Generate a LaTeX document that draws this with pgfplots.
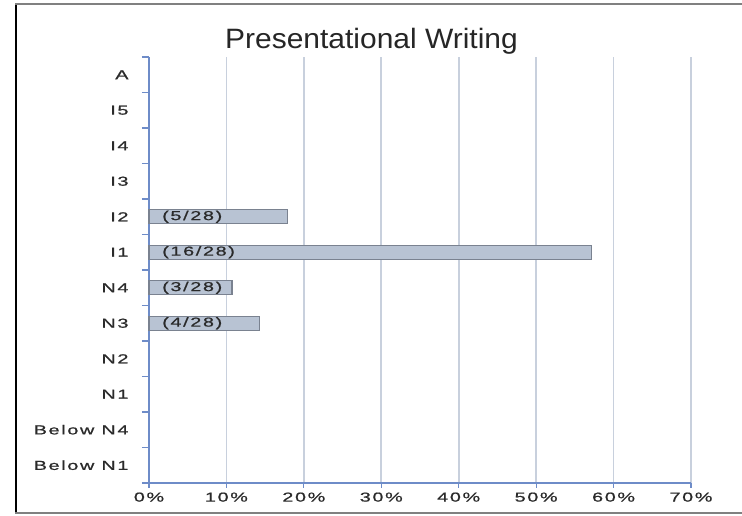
\documentclass[border=0pt]{standalone}
\usepackage{pgfplots}
\pgfplotsset{compat=1.18}
\usepackage{fontspec}
\setmainfont{Liberation Sans}
\newfontfamily\lblfont[FakeStretch=1.52, LetterSpace=13, FakeBold=0.9]{Liberation Sans}
\newfontfamily\titlefont[FakeStretch=1.07]{Liberation Sans}
\definecolor{axblue}{HTML}{6E8CC8}
\definecolor{gridc}{HTML}{C8D0DD}
\definecolor{barfill}{HTML}{B8C3D3}
\definecolor{baredge}{HTML}{7A8290}
\definecolor{txt}{HTML}{2A2A2A}
\begin{document}
\begin{tikzpicture}[x=1pt,y=1pt]
\path[use as bounding box] (0,0) rectangle (742,516);
\fill[white] (0,0) rectangle (742,516);
% frame
\draw[line width=2pt, black] (15.5,3) -- (15.5,512);
\draw[line width=2pt, gray] (15,511.5) -- (742,511.5);
\draw[line width=2pt, gray] (15,3) -- (742,3);
\node[anchor=base, font=\titlefont\fontsize{28}{32}\selectfont, text=black!85] at (371.5,467) {Presentational Writing};
\begin{axis}[
  at={(149pt,33pt)}, anchor=south west,
  scale only axis, width=542pt, height=426pt,
  xmin=0, xmax=70, ymin=-0.5, ymax=11.5,
  axis x line*=bottom, axis y line*=left,
  axis line style={axblue, line width=1.5pt, -},
  tick align=outside,
  major tick length=5pt,
  minor tick length=7pt,
  xtick={0,10,20,30,40,50,60,70},
  xticklabels={0\%,10\%,20\%,30\%,40\%,50\%,60\%,70\%},
  ytick={0,1,2,3,4,5,6,7,8,9,10,11},
  yticklabels={Below N1,Below N4,N1,N2,N3,N4,I1,I2,I3,I4,I5,A},
  minor ytick={-0.5,0.5,1.5,2.5,3.5,4.5,5.5,6.5,7.5,8.5,9.5,10.5,11.5},
  major y tick style={draw=none},
  minor y tick style={axblue, line width=1.2pt},
  major x tick style={axblue, line width=1.2pt},
  xmajorgrids,
  major grid style={gridc, line width=1.8pt},
  tick label style={font=\lblfont\fontsize{13}{15}\selectfont, text=txt},
  yticklabel style={anchor=east, xshift=-12pt},
  xticklabel style={anchor=north, yshift=-1pt},
  clip=false,
]
\addplot[xbar, bar width=14pt, fill=barfill, draw=baredge, line width=1.3pt]
  coordinates {(14.29,4) (10.71,5) (57.14,6) (17.86,7)};
\addplot[only marks, mark=none, point meta=explicit symbolic,
  nodes near coords,
  nodes near coords style={anchor=west, xshift=12pt, font=\lblfont\fontsize{13}{15}\selectfont, text=txt, inner sep=1pt}]
  coordinates {(0,4) [(4/28)] (0,5) [(3/28)] (0,6) [(16/28)] (0,7) [(5/28)]};
\end{axis}
\end{tikzpicture}
\end{document}
